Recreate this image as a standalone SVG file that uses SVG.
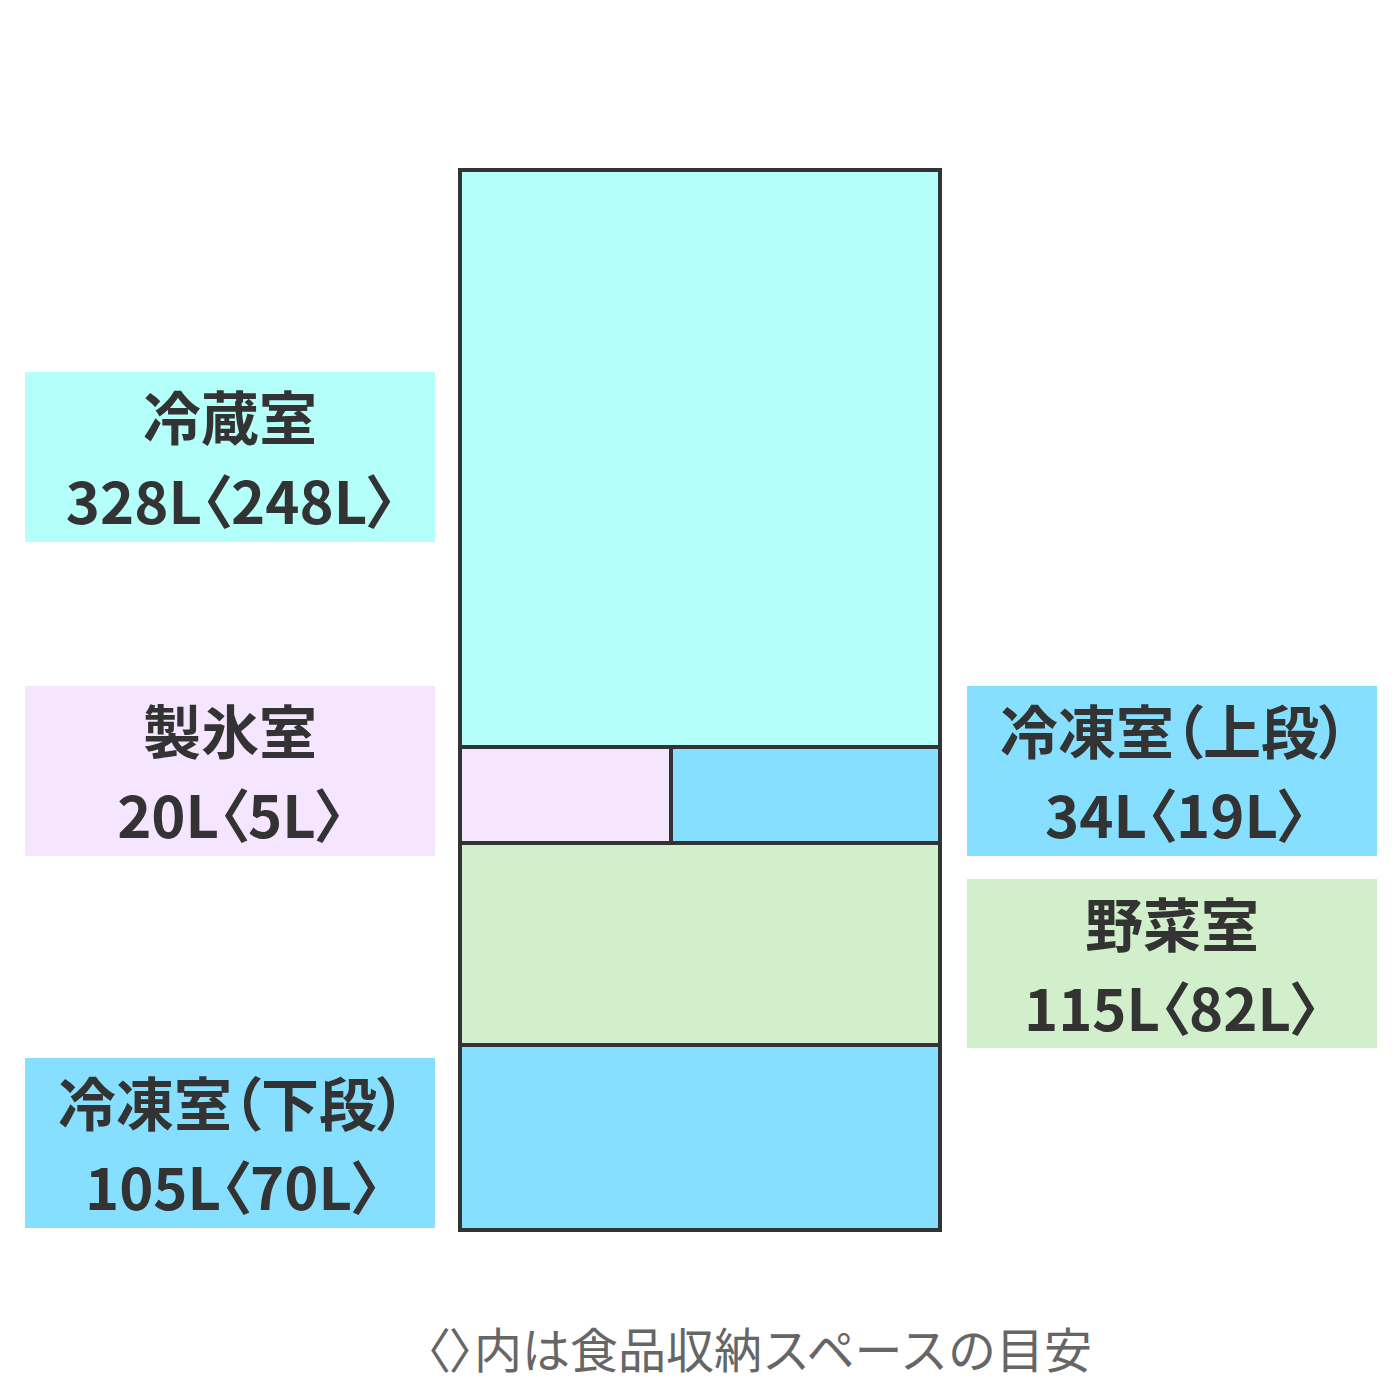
<svg xmlns="http://www.w3.org/2000/svg" width="1400" height="1400" viewBox="0 0 1400 1400">
<style>
.lbl{font-family:"Noto Sans CJK JP","Noto Sans CJK SC",sans-serif;font-weight:700;font-size:58px;fill:#333;text-anchor:middle;font-feature-settings:"palt"}
.cap{font-family:"Noto Sans CJK JP","Noto Sans CJK SC",sans-serif;font-weight:400;font-size:48px;fill:#666;text-anchor:middle}
.br{font-feature-settings:"palt"}
.ln{stroke:#333;stroke-width:4;fill:none}
</style>
<rect width="1400" height="1400" fill="#fff"/>
<g id="fridge">
<rect x="460" y="170" width="480" height="577" fill="#b4fffa"/>
<rect x="460" y="747" width="211" height="96" fill="#f5e5ff"/>
<rect x="671" y="747" width="269" height="96" fill="#86dfff"/>
<rect x="460" y="843" width="480" height="202" fill="#d2efcb"/>
<rect x="460" y="1045" width="480" height="185" fill="#86dfff"/>
<rect class="ln" x="460" y="170" width="480" height="1060"/>
<line class="ln" x1="460" y1="747" x2="940" y2="747"/>
<line class="ln" x1="460" y1="843" x2="940" y2="843"/>
<line class="ln" x1="460" y1="1045" x2="940" y2="1045"/>
<line class="ln" x1="671" y1="747" x2="671" y2="843"/>
</g>
<g id="label-reizo">
<rect x="25" y="372" width="410" height="170" fill="#b4fffa"/>
<text class="lbl" x="230" y="440">冷蔵室</text>
<text class="lbl" x="231" y="524">328L〈248L〉</text>
</g>
<g id="label-seihyo">
<rect x="25" y="686" width="410" height="170" fill="#f5e5ff"/>
<text class="lbl" x="230" y="754">製氷室</text>
<text class="lbl" x="231" y="838">20L〈5L〉</text>
</g>
<g id="label-reito-jo">
<rect x="967" y="686" width="410" height="170" fill="#86dfff"/>
<text class="lbl" x="1174" y="754">冷凍室（上段）</text>
<text class="lbl" x="1176" y="838">34L〈19L〉</text>
</g>
<g id="label-yasai">
<rect x="967" y="879" width="410" height="169" fill="#d2efcb"/>
<text class="lbl" x="1172" y="947">野菜室</text>
<text class="lbl" x="1172" y="1031">115L〈82L〉</text>
</g>
<g id="label-reito-ge">
<rect x="25" y="1058" width="410" height="170" fill="#86dfff"/>
<text class="lbl" x="232" y="1126">冷凍室（下段）</text>
<text class="lbl" x="233" y="1210">105L〈70L〉</text>
</g>
<g id="caption">
<text class="cap" x="759" y="1368"><tspan class="br">〈〉</tspan>内は食品収納スペースの目安</text>
</g>
<g id="connectors"></g>
</svg>
